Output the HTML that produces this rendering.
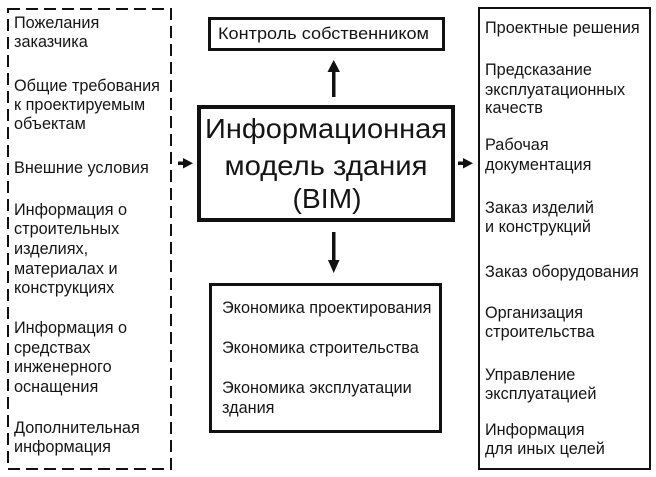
<!DOCTYPE html>
<html>
<head>
<meta charset="utf-8">
<style>
  html, body { margin:0; padding:0; background:#fff; }
  svg { display:block; }
  text { font-family: "Liberation Sans", "Noto Sans CJK SC", sans-serif; fill:#151515; }
  .s { font-size:16.25px; }
  .t { font-size:28px; }
</style>
</head>
<body>
<svg width="656" height="477" viewBox="0 0 656 477" xmlns="http://www.w3.org/2000/svg">
  <rect x="0" y="0" width="656" height="477" fill="#fff"/>

  <!-- Left dashed box -->
  <rect x="8" y="9" width="163" height="460" fill="none" stroke="#111" stroke-width="2" stroke-dasharray="12 6"/>
  <g class="s">
    <text x="14" y="28" class="s">Пожелания</text>
    <text x="14" y="47" class="s">заказчика</text>
    <text x="14" y="91" class="s">Общие требования</text>
    <text x="14" y="110" class="s">к проектируемым</text>
    <text x="14" y="129" class="s">объектам</text>
    <text x="14" y="173" class="s">Внешние условия</text>
    <text x="14" y="215" class="s">Информация о</text>
    <text x="14" y="234" class="s">строительных</text>
    <text x="14" y="254" class="s">изделиях,</text>
    <text x="14" y="274" class="s">материалах и</text>
    <text x="14" y="293" class="s">конструкциях</text>
    <text x="14" y="333" class="s">Информация о</text>
    <text x="14" y="353" class="s">средствах</text>
    <text x="14" y="372" class="s">инженерного</text>
    <text x="14" y="392" class="s">оснащения</text>
    <text x="14" y="433" class="s">Дополнительная</text>
    <text x="14" y="452" class="s">информация</text>
  </g>

  <!-- Top box -->
  <rect x="209.5" y="18.5" width="234" height="31" fill="none" stroke="#111" stroke-width="3"/>
  <text x="218" y="39" class="s" textLength="211" lengthAdjust="spacingAndGlyphs">Контроль собственником</text>

  <!-- Up arrow -->
  <rect x="332" y="70" width="3.5" height="27" fill="#111"/>
  <polygon points="333.7,60 327.5,72 340,72" fill="#111"/>

  <!-- Main box -->
  <rect x="199" y="107" width="254" height="113" fill="none" stroke="#111" stroke-width="4"/>
  <text x="326" y="138" class="t" text-anchor="middle" textLength="242" lengthAdjust="spacingAndGlyphs">Информационная</text>
  <text x="326" y="175" class="t" text-anchor="middle" textLength="203" lengthAdjust="spacingAndGlyphs">модель здания</text>
  <text x="327" y="208" class="t" text-anchor="middle" textLength="69" lengthAdjust="spacingAndGlyphs">(BIM)</text>

  <!-- Down arrow -->
  <rect x="332" y="232" width="3.5" height="30" fill="#111"/>
  <polygon points="333.7,273 328,260 339.5,260" fill="#111"/>

  <!-- Left arrow -->
  <rect x="178" y="161.5" width="7" height="3.5" fill="#111"/>
  <polygon points="193,163.2 183,158 183,168.5" fill="#111"/>

  <!-- Right arrow -->
  <rect x="458" y="161.5" width="7" height="3.5" fill="#111"/>
  <polygon points="473,163.2 463,158 463,168.5" fill="#111"/>

  <!-- Bottom box -->
  <rect x="210.5" y="284.5" width="230" height="147" fill="none" stroke="#111" stroke-width="3"/>
  <text x="222" y="313" class="s">Экономика проектирования</text>
  <text x="222" y="353" class="s">Экономика строительства</text>
  <text x="222" y="393" class="s">Экономика эксплуатации</text>
  <text x="222" y="413" class="s">здания</text>

  <!-- Right box -->
  <rect x="479" y="8" width="171" height="461" fill="none" stroke="#111" stroke-width="2"/>
  <text x="485" y="33" class="s">Проектные решения</text>
  <text x="485" y="75" class="s">Предсказание</text>
  <text x="485" y="95" class="s">эксплуатационных</text>
  <text x="485" y="113" class="s">качеств</text>
  <text x="485" y="150" class="s">Рабочая</text>
  <text x="485" y="170" class="s">документация</text>
  <text x="485" y="213" class="s">Заказ изделий</text>
  <text x="485" y="232" class="s">и конструкций</text>
  <text x="485" y="277" class="s">Заказ оборудования</text>
  <text x="485" y="318" class="s">Организация</text>
  <text x="485" y="337" class="s">строительства</text>
  <text x="485" y="380" class="s">Управление</text>
  <text x="485" y="399" class="s">эксплуатацией</text>
  <text x="485" y="435" class="s">Информация</text>
  <text x="485" y="454" class="s">для иных целей</text>
</svg>
</body>
</html>
